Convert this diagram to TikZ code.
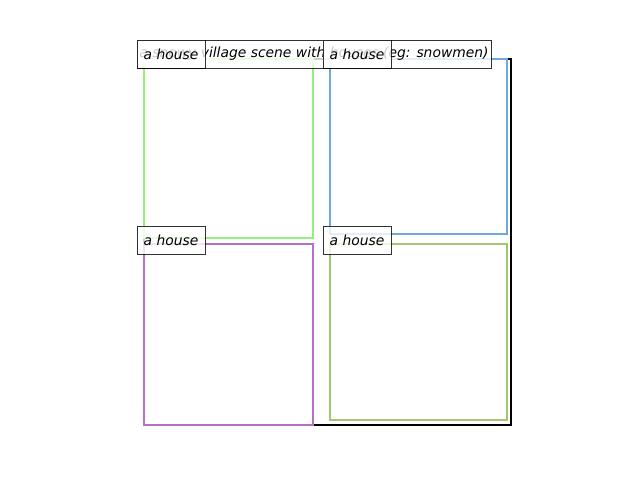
\documentclass[tikz,border=0pt]{standalone}
\usepackage{fontspec}
\setmainfont{DejaVu Sans}
\definecolor{cgreen}{RGB}{150,240,120}
\definecolor{cblue}{RGB}{111,168,220}
\definecolor{cpurple}{RGB}{185,110,200}
\definecolor{colive}{RGB}{160,200,110}
\begin{document}
\begin{tikzpicture}[x=0.75pt,y=-0.75pt,
  region/.style={line width=2pt},
  lbl/.style={draw=black, fill=white, draw opacity=0.8, fill opacity=0.8, text opacity=1,
    line width=0.75pt, minimum height=21pt, inner sep=0pt,
    font=\fontsize{10.4pt}{12pt}\selectfont\itshape}]
\useasboundingbox (0,0) rectangle (640,480);
\draw[line width=2pt] (144,59) rectangle (511,425);
\draw[region, cgreen] (144,59) rectangle (313,238);
\draw[region, cblue] (330,59) rectangle (507,234);
\draw[region, cpurple] (144,244) rectangle (313,425);
\draw[region, colive] (330,244) rectangle (507,420);
\node[lbl, minimum width=265.5pt] (title) at (314,54) {a snowy village scene with houses (eg: snowmen)};
\node[lbl, minimum width=51pt] (h1) at (171,54) {a house};
\node[lbl, minimum width=51pt] (h2) at (357,54) {a house};
\node[lbl, minimum width=51pt] (h3) at (171,240) {a house};
\node[lbl, minimum width=51pt] (h4) at (357,240) {a house};
\end{tikzpicture}
\end{document}
